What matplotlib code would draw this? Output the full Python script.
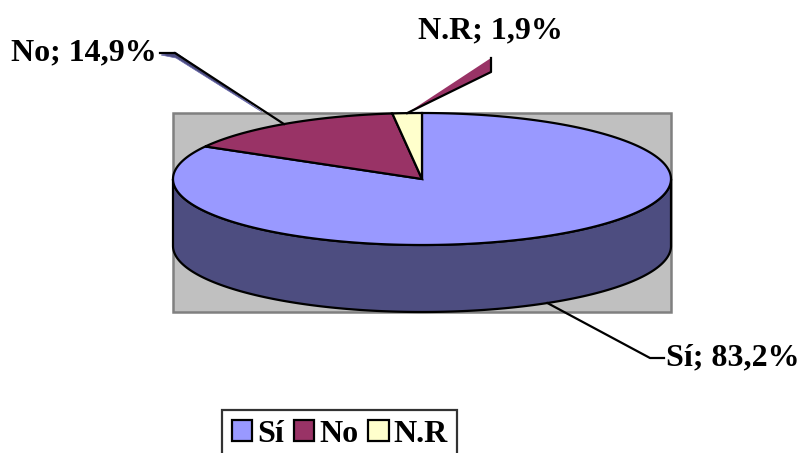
import numpy as np
import matplotlib
matplotlib.use("Agg")
import matplotlib.pyplot as plt
from matplotlib.patches import Polygon, Rectangle, Patch

# Data
labels = ["Sí", "No", "N.R"]
shares = [83.2, 14.9, 1.9]
label_text = ["Sí; 83,2%", "No; 14,9%", "N.R; 1,9%"]

# Styles
colors = ["#9999FF", "#993366", "#FFFFCC"]
FONT = dict(family="Liberation Serif", weight="bold")
FS = 23
LW = 1.6

# Pie geometry in pixel space
CX, CY = 422, 179
RX, RY = 249, 66
DEPTH = 67


def pt(theta_deg, dy=0.0):
    t = np.radians(theta_deg)
    return CX + RX * np.cos(t), CY - RY * np.sin(t) + dy


def shade(c, f=0.5):
    rgb = np.array(matplotlib.colors.to_rgb(c))
    return tuple(rgb * f)


fig = plt.figure(figsize=(8.05, 4.53), dpi=100)
ax = fig.add_axes([0, 0, 1, 1])
ax.set_xlim(0, 805)
ax.set_ylim(453, 0)
ax.axis("off")

# gray plot area
ax.add_patch(Rectangle((CX - RX, CY - RY), 2 * RX, 2 * RY + DEPTH,
                       facecolor="#C0C0C0", edgecolor="#808080", lw=1.8, zorder=1))

# slice angles (start at 12 o'clock, clockwise)
frac = np.array(shares) / sum(shares)
bounds = 90 - 360 * np.concatenate([[0], np.cumsum(frac)])
mids = (bounds[:-1] + bounds[1:]) / 2

# side walls (front half only)
for i, c in enumerate(colors):
    hi = min(bounds[i], 0)
    lo = max(bounds[i + 1], -180)
    if lo >= hi:
        continue
    th = np.linspace(hi, lo, 200)
    top = [pt(t) for t in th]
    bot = [pt(t, DEPTH) for t in th[::-1]]
    ax.add_patch(Polygon(top + bot, closed=True, facecolor=shade(c),
                         edgecolor="black", lw=LW, zorder=2))

# top faces
for i, c in enumerate(colors):
    th = np.linspace(bounds[i], bounds[i + 1], 200)
    verts = [(CX, CY)] + [pt(t) for t in th]
    ax.add_patch(Polygon(verts, closed=True, facecolor=c,
                         edgecolor="black", lw=LW, joinstyle="miter", zorder=3))

# leader lines and labels
# Sí: from bottom edge of the side wall
sx, sy = pt(mids[0], DEPTH)
ax.plot([sx, 650, 664], [sy, 358, 358], color="black", lw=LW, zorder=4)
ax.text(666, 358, label_text[0], ha="left", va="center", fontsize=FS, **FONT)

# No: from top face edge, with a thin shadow sliver
nx, ny = pt(mids[1])
ax.add_patch(Polygon([(161, 55), (175, 52), (262, 112), (176, 58)], closed=True,
                     facecolor="#4C4C80", edgecolor="#6666AA", lw=0.5, zorder=4))
ax.plot([160, 175, nx], [53, 53, ny], color="black", lw=LW, zorder=5)
ax.text(157, 53, label_text[1], ha="right", va="center", fontsize=FS, **FONT)

# N.R: from top face edge, wedge shaped leader
rx_, ry_ = pt(mids[2])
ax.add_patch(Polygon([(rx_, ry_), (491, 58), (491, 72)], closed=True,
                     facecolor=colors[1], edgecolor="none", zorder=4))
ax.plot([rx_, 491, 491], [ry_, 72, 58], color="black", lw=LW, zorder=5)
ax.text(490, 31, label_text[2], ha="center", va="center", fontsize=FS, **FONT)

# legend
handles = [Patch(facecolor=c, edgecolor="black", lw=LW) for c in colors]
leg = fig.legend(handles, labels, loc="upper left",
                 bbox_to_anchor=(222 / 805, 1 - 410 / 453), ncol=3,
                 prop=dict(family="Liberation Serif", weight="bold", size=FS),
                 frameon=True, fancybox=False, handlelength=0.65, handleheight=0.65,
                 handletextpad=0.15, columnspacing=0.3, borderpad=0.3,
                 borderaxespad=0)
leg.get_frame().set_edgecolor("black")
leg.get_frame().set_linewidth(LW)

fig.savefig("out.png", dpi=100)
